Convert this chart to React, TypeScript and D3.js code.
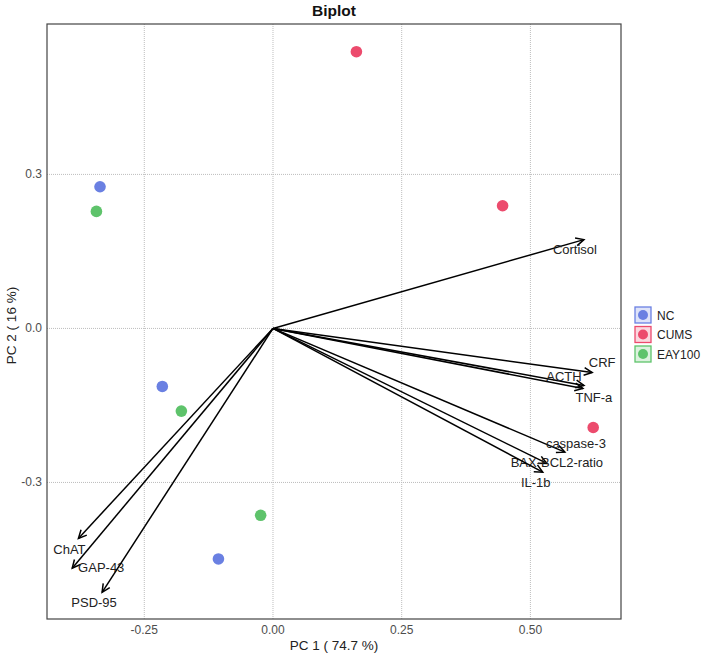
import React from "react";
import { scaleLinear } from "d3";

// individuals (PCA scores)
const groups = ["NC", "CUMS", "EAY100"];
const groupColors = ["#6a80e2", "#ec4b6d", "#5ec36b"];
const indGroup = ["NC", "NC", "NC", "CUMS", "CUMS", "CUMS", "EAY100", "EAY100", "EAY100"];
const indPC1 = [-0.336, -0.215, -0.106, 0.162, 0.446, 0.622, -0.343, -0.178, -0.024];
const indPC2 = [0.276, -0.113, -0.449, 0.539, 0.239, -0.193, 0.228, -0.161, -0.364];

// variables (loadings)
const varNames = ["Cortisol", "CRF", "ACTH", "TNF-a", "caspase-3", "BAX-BCL2-ratio", "IL-1b", "ChAT", "GAP-43", "PSD-95"];
const varPC1 = [0.604, 0.620, 0.604, 0.602, 0.567, 0.532, 0.524, -0.378, -0.390, -0.332];
const varPC2 = [0.173, -0.086, -0.111, -0.117, -0.241, -0.263, -0.280, -0.409, -0.467, -0.514];

const xTicks = [-0.25, 0, 0.25, 0.5];
const yTicks = [-0.3, 0, 0.3];

// label nudges in px (layout only)
const labelNudge: Record<string, [number, number]> = {
  "Cortisol": [-9, 10],
  "CRF": [10, -10],
  "ACTH": [-20, -9],
  "TNF-a": [11, 9],
  "caspase-3": [11, -9],
  "BAX-BCL2-ratio": [10, -1],
  "IL-1b": [-7, 10],
  "ChAT": [-9, 11],
  "GAP-43": [29, -1],
  "PSD-95": [-8, 10],
};

const W = 709;
const H = 656;
const panel = { left: 47, top: 24, right: 621, bottom: 619 };
const font = "'Liberation Sans', Arial, sans-serif";

const App = () => {
  const x = scaleLinear().domain([-0.439, 0.676]).range([panel.left, panel.right]);
  const y = scaleLinear().domain([-0.566, 0.593]).range([panel.bottom, panel.top]);
  const color = (g: string) => groupColors[groups.indexOf(g)];

  const arrowHead = (x1: number, y1: number, x2: number, y2: number) => {
    const a = Math.atan2(y2 - y1, x2 - x1);
    const len = 9;
    const spread = Math.PI / 7;
    const p1 = [x2 - len * Math.cos(a - spread), y2 - len * Math.sin(a - spread)];
    const p2 = [x2 - len * Math.cos(a + spread), y2 - len * Math.sin(a + spread)];
    return `M${p1[0]},${p1[1]}L${x2},${y2}L${p2[0]},${p2[1]}`;
  };

  return (
    <svg width={W} height={H} style={{ position: "absolute", left: 0, top: 0, background: "#fff" }} fontFamily={font}>
      <text x={(panel.left + panel.right) / 2} y={16} textAnchor="middle" fontSize={15.5} fontWeight="bold" fill="#111">
        Biplot
      </text>

      {/* grid */}
      {xTicks.map((t) => (
        <line key={"gx" + t} x1={x(t)} x2={x(t)} y1={panel.top} y2={panel.bottom} stroke="#bdbdbd" strokeDasharray="1,1" />
      ))}
      {yTicks.map((t) => (
        <line key={"gy" + t} y1={y(t)} y2={y(t)} x1={panel.left} x2={panel.right} stroke="#bdbdbd" strokeDasharray="1,1" />
      ))}

      {/* tick labels */}
      {xTicks.map((t) => (
        <text key={"tx" + t} x={x(t)} y={panel.bottom + 15} textAnchor="middle" fontSize={12} fill="#4d4d4d">
          {t.toFixed(2)}
        </text>
      ))}
      {yTicks.map((t) => (
        <text key={"ty" + t} x={panel.left - 5} y={y(t) + 4} textAnchor="end" fontSize={12} fill="#4d4d4d">
          {t.toFixed(1)}
        </text>
      ))}

      <text x={(panel.left + panel.right) / 2} y={panel.bottom + 31} textAnchor="middle" fontSize={13.5} fill="#222">
        PC 1 ( 74.7 %)
      </text>
      <text transform={`translate(16,${(panel.top + panel.bottom) / 2 + 4}) rotate(-90)`} textAnchor="middle" fontSize={13.5} fill="#222">
        PC 2 ( 16 %)
      </text>

      {/* points */}
      {indPC1.map((v, i) => (
        <circle key={"p" + i} cx={x(v)} cy={y(indPC2[i])} r={5.8} fill={color(indGroup[i])} />
      ))}

      {/* variable arrows */}
      {varNames.map((name, i) => {
        const x1 = x(0), y1 = y(0), x2 = x(varPC1[i]), y2 = y(varPC2[i]);
        const [dx, dy] = labelNudge[name];
        return (
          <g key={name}>
            <line x1={x1} y1={y1} x2={x2} y2={y2} stroke="#000" strokeWidth={1.5} />
            <path d={arrowHead(x1, y1, x2, y2)} fill="none" stroke="#000" strokeWidth={1.5} />
            <text x={x2 + dx} y={y2 + dy + 4.5} textAnchor="middle" fontSize={13} fill="#222">
              {name}
            </text>
          </g>
        );
      })}

      <rect x={panel.left} y={panel.top} width={panel.right - panel.left} height={panel.bottom - panel.top} fill="none" stroke="#444" strokeWidth={1.2} />

      {/* legend */}
      {groups.map((g, i) => (
        <g key={g} transform={`translate(635,${307 + i * 19.5})`}>
          <rect x={0} y={0} width={16} height={16} fill={groupColors[i]} fillOpacity={0.22} stroke={groupColors[i]} strokeWidth={1.3} />
          <circle cx={8} cy={8} r={5} fill={groupColors[i]} />
          <text x={22} y={12.5} fontSize={12} fill="#222">
            {g}
          </text>
        </g>
      ))}
    </svg>
  );
};

export default App;
